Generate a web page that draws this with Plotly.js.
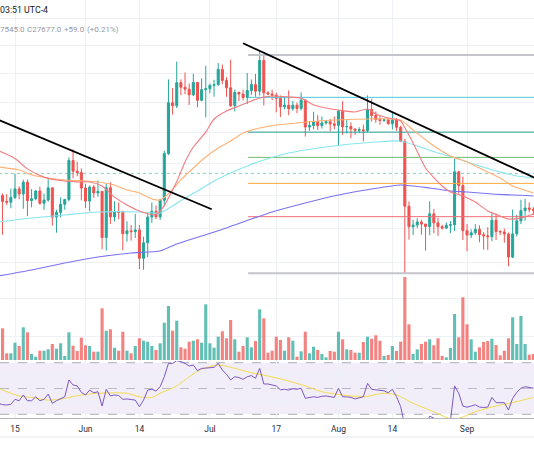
<!DOCTYPE html>
<html><head><meta charset="utf-8">
<script src="https://cdn.plot.ly/plotly-3.0.1.min.js"></script>
<style>html,body{margin:0;padding:0;background:#fff;}#chart{width:534px;height:462px;}</style>
</head><body><div id="chart"></div>
<script>
// ---- daily candles, 2023-05-11 .. 2023-09-17 ----
const firstDay = '2023-05-11';
const opens = [27619,26988,26808,26785,26931,27193,27036,27399,26833,26890,27129,26753,26851,27226,26334,26476,26720,26868,28085,27746,27702,
27219,26819,27249,27069,27116,25728,27231,26340,26499,26477,25841,25925,25903,25954,25129,25575,26335,26511,26340,26845,28308,29994,29890,30688,30528,30462,30267,30693,30078,30445,
30477,30590,30620,31156,30767,30508,29895,30346,30292,30172,30414,30620,30391,31476,30334,30295,30249,30145,29856,29913,29793,29909,29800,30083,29177,29228,29353,29223,29314,29352,29281,
29233,29705,29186,29193,29113,29072,29089,29055,29767,29561,29429,29397,29415,29283,29409,29170,28701,26664,26049,26096,26189,26125,26055,26432,26163,26048,26008,26089,26106,27727,27297,
25931,25800,25869,25969,25812,25779,25754,26241,25905,25895,25833,25163,25835,26223,26529,26608,26569];
const highs = [27659,27055,27030,27200,27666,27275,27480,27485,27190,27155,27265,27050,27495,27227,26558,26932,26888,28193,28447,28045,27835,
27347,27300,27317,27455,27130,27355,27399,26810,26780,26530,26210,26098,26433,26098,25750,26480,26777,26685,26890,28400,30800,30500,31432,30800,31046,30656,31000,30705,30840,31282,
30660,30789,31380,31325,30880,31500,30449,30383,30445,31026,30800,30993,31814,31640,30390,30440,30340,30245,30186,30417,30056,29998,30350,30099,29376,29690,29571,29529,29414,29448,29530,
29744,30047,29410,29333,29117,29169,29259,30244,30130,29700,29540,29480,29450,29660,29480,29220,28786,26808,26260,26299,26258,26132,26814,26575,26315,26107,26179,26218,28142,27760,27575,
26125,25970,26121,26089,25888,26032,26444,26433,25945,25990,25878,26560,26400,26860,26888,26777,26631];
const lows = [26745,25811,26703,26600,26877,26878,26586,26361,26630,26843,26706,26554,26800,26080,25871,26325,26557,26810,27524,27588,26841,
26605,26505,26920,26951,25388,25351,26131,26206,26269,25358,25608,25640,25712,24821,24800,25161,26166,26274,26252,26665,28260,29590,29813,30251,30290,29918,30225,29840,30042,29500,
30323,30200,30575,30633,30200,29850,29701,30046,30075,29950,30265,30200,30240,29900,30253,30090,29667,29512,29768,29570,29721,29640,29730,28862,29047,29096,29080,29125,29259,29033,29101,
28585,28920,28960,28806,28920,28975,28702,29000,29358,29320,29250,29350,29260,29100,29050,28700,24703,25668,25800,26006,25812,25350,25796,25855,25777,25960,25980,25860,25922,27047,25655,
25333,25714,25804,25590,25377,25370,25625,25657,25801,25578,24901,25133,25760,26125,26224,26478,26400];
const closes = [26988,26808,26785,26931,27193,27036,27399,26833,26890,27129,26753,26851,27226,26334,26476,26720,26868,28085,27746,27702,27219,
26819,27249,27069,27116,25728,27231,26340,26499,26477,25841,25925,25903,25954,25129,25575,26335,26511,26340,26845,28308,29994,29890,30688,30528,30462,30267,30693,30078,30445,30477,
30590,30620,31156,30767,30508,29895,30346,30292,30172,30414,30620,30391,31476,30334,30295,30249,30145,29856,29913,29793,29909,29800,30083,29177,29228,29353,29223,29314,29352,29281,29233,
29705,29186,29193,29113,29072,29089,29055,29767,29561,29429,29397,29415,29283,29409,29170,28701,26664,26049,26096,26189,26125,26055,26432,26163,26048,26008,26089,26106,27727,27297,25931,
25800,25869,25969,25812,25779,25754,26241,25905,25895,25833,25163,25835,26223,26529,26608,26569,26534];
const volumeK = [30.7,31.7,6.7,6.7,17.3,14,32.7,27.7,6,3.3,9.3,9.3,10.7,16,11.3,16.7,4,27.7,14.3,9,22.3,
14.7,14,8.3,8.3,51.7,29.3,30.7,12.3,9.3,28.3,9.3,6.7,14,21.7,19.3,18.3,14,10,16.7,37.3,54,29.3,39.3,12.7,11.3,18.3,19.3,20.7,17.3,55.7,
16.7,12.3,23.3,28.7,21.7,40,20.7,8.3,14,22.7,12.7,19,50.7,41.7,7.3,9.3,23.3,20,9.3,22.7,19.3,3.3,8.7,28.3,6.7,13.3,10,6,2.7,9,8.3,
28.3,20.7,10.7,10,7.3,7.3,18,23.3,21.3,24.7,19.3,4,5,14,9,18.3,83,35.7,6,10.7,16,18.3,20.7,14.7,21.7,4,2.7,12,46,22.7,62.7,
35.7,20.7,8.3,12.7,18,19,21.3,15,4.7,9.3,21.7,42.7,16,44,16,5.3,6];
const rsi = [38.5,37.5,37.2,37.7,41.6,40.5,45,40.5,40.5,43.6,40.5,41.6,45.7,38.5,40.5,42,43.6,56.6,52.7,52,47,
45,48.8,46.7,47.5,36.4,49.4,44.2,45,44.5,41.6,41.9,41.5,41,35.9,41,48.8,49.4,48,51.4,59.1,69.5,69.5,71.5,70.8,69.5,67.4,68.2,63.8,65.6,65.8,
66.2,66.4,69.5,64.3,61,56.6,59.1,58.5,57.1,59.1,60,57.9,65.6,53.5,53.5,53,52,49,49.4,48.8,49.8,49.4,50.2,42.4,43,43.6,43.1,44,44.2,43.6,43.1,
50.2,43.6,43.5,43.1,41.9,42.5,43.6,54,49.4,49,48.8,48.2,46.7,49.4,43.6,36,21,18,19,21,21,21,28.5,27.4,25.5,23.5,24.5,25,52,46.3,36.4,
35.5,36.4,37.4,35.6,35.3,35.6,43.1,39,38.8,39,33.3,42.4,47,50.2,51.4,51,50.2];

// ---- moving averages (sparse points) ----
const ema20Dates = ['2023-05-11','2023-05-15','2023-05-18','2023-05-22','2023-05-25','2023-05-30','2023-06-02','2023-06-05','2023-06-08','2023-06-11','2023-06-14','2023-06-18','2023-06-19','2023-06-20','2023-06-21','2023-06-23','2023-06-25','2023-06-27','2023-06-30','2023-07-02','2023-07-05','2023-07-08','2023-07-11','2023-07-13','2023-07-16','2023-07-20','2023-07-23','2023-07-26','2023-07-29','2023-08-01','2023-08-05','2023-08-08','2023-08-10','2023-08-13','2023-08-16','2023-08-17','2023-08-19','2023-08-22','2023-08-26','2023-08-28','2023-08-31','2023-09-03','2023-09-06','2023-09-09','2023-09-11','2023-09-14','2023-09-17'];
const ema20Values = [28400,28150,27820,27560,27470,27410,27410,27280,26940,26700,26520,26400,26520,26680,26910,27420,28040,28520,29010,29445,29714,29884,30054,30160,30226,30192,30157,29918,29816,29748,29680,29782,29613,29479,29378,29150,28652,27848,27284,27098,26975,26792,26519,26368,26278,26308,26428];
const ema50Dates = ['2023-05-11','2023-05-16','2023-05-19','2023-05-23','2023-05-27','2023-06-01','2023-06-04','2023-06-08','2023-06-11','2023-06-14','2023-06-17','2023-06-19','2023-06-21','2023-06-24','2023-06-27','2023-06-30','2023-07-03','2023-07-06','2023-07-09','2023-07-13','2023-07-17','2023-07-22','2023-07-27','2023-08-01','2023-08-08','2023-08-14','2023-08-16','2023-08-19','2023-08-23','2023-08-28','2023-09-01','2023-09-05','2023-09-09','2023-09-12','2023-09-17'];
const ema50Values = [27880,27785,27627,27533,27471,27440,27409,27315,27160,27068,26883,26853,27037,27471,27848,28199,28490,28717,28981,29145,29245,29312,29378,29412,29445,29445,29412,29079,28652,28231,28039,27785,27533,27284,27068];
const ema100Dates = ['2023-05-11','2023-05-19','2023-05-27','2023-06-04','2023-06-14','2023-06-19','2023-06-22','2023-06-25','2023-06-28','2023-07-02','2023-07-06','2023-07-10','2023-07-14','2023-07-19','2023-07-24','2023-07-29','2023-08-04','2023-08-10','2023-08-16','2023-08-20','2023-08-25','2023-08-30','2023-09-04','2023-09-09','2023-09-13','2023-09-17'];
const ema100Values = [26189,26308,26398,26489,26489,26459,26670,26914,27129,27440,27690,27911,28103,28295,28424,28522,28620,28685,28717,28554,28327,28135,27911,27722,27596,27533];
const ema200Dates = ['2023-05-11','2023-05-19','2023-05-27','2023-06-04','2023-06-12','2023-06-19','2023-06-23','2023-06-29','2023-07-05','2023-07-11','2023-07-16','2023-07-24','2023-08-01','2023-08-09','2023-08-16','2023-08-23','2023-08-28','2023-09-01','2023-09-07','2023-09-17'];
const ema200Values = [24628,24797,24995,25167,25282,25339,25542,25775,26011,26278,26489,26761,27006,27191,27315,27222,27129,27098,27037,26975];
const rsiMaDates = ['2023-05-11','2023-05-14','2023-05-16','2023-05-19','2023-05-23','2023-05-27','2023-05-31','2023-06-04','2023-06-08','2023-06-11','2023-06-14','2023-06-17','2023-06-19','2023-06-23','2023-06-26','2023-06-29','2023-07-03','2023-07-07','2023-07-11','2023-07-15','2023-07-19','2023-07-24','2023-07-28','2023-08-02','2023-08-07','2023-08-12','2023-08-15','2023-08-19','2023-08-23','2023-08-28','2023-08-30','2023-09-03','2023-09-08','2023-09-13','2023-09-17'];
const rsiMaValues = [50.2,46.3,44.2,43.1,41,42.4,45,46.3,46.7,46.3,43.6,43.1,46.3,52,59.1,64.9,68.2,65.6,62.2,59.7,56.6,52,47.5,45,43.6,46.3,45,38.5,33.3,26.6,26.8,32,36.4,39.8,43.1];

// ---- drawings ----
const trend1Dates = ['2023-05-06 13:00','2023-07-01 10:20'];
const trend1Prices = [29680, 26570];
const trend2Dates = ['2023-07-09 00:00','2023-09-20 00:00'];
const trend2Prices = [32094, 27374];
const fibLow = 24703, fibHigh = 31670;
const fibRatios = [0, 0.236, 0.382, 0.5, 0.618, 0.786, 1];
const fibStart = '2023-07-10 05:00', fibEnd = '2023-09-30';
const lastClose = 27677;

// ---- axis labels / header texts ----
const tickDates = ['2023-05-15','2023-06-01','2023-06-14','2023-07-01','2023-07-17','2023-08-01','2023-08-14','2023-09-01'];
const tickLabels = ['15','Jun','14','Jul','17','Aug','14','Sep'];
const priceGrid = [23000,24000,25000,26000,27000,28000,29000,30000,31000,32000,33000];
const headerTime = '03:51 UTC-4';
const headerParts = ['7545.0', 'C27677.0', '+59.0', '(+0.21%)'];

// build day list
const days = opens.map((_, i) => {
  const d = new Date(firstDay + 'T00:00:00Z'); d.setUTCDate(d.getUTCDate() + i);
  return d.toISOString().slice(0, 10);
});
const UP = '#26a69a', DOWN = '#ef5350';
const volColors = opens.map((o, i) => closes[i] >= o ? 'rgba(38,166,154,0.72)' : 'rgba(239,83,80,0.72)');

const fibColors = ['#c4c5ca','#f26d77','#ffa83a','#6cbd6f','#22a08e','#4cc9da','#c4c5ca'];
const fibWidths = [2,1,1,1,1,1,2];

const traces = [];
traces.push({type:'bar', x:days, y:volumeK, yaxis:'y2', marker:{color:volColors, line:{width:0}}, hoverinfo:'skip'});
fibRatios.forEach((r, k) => {
  const p = fibLow + r * (fibHigh - fibLow);
  traces.push({type:'scatter', mode:'lines', x:[fibStart, fibEnd], y:[p, p], yaxis:'y',
    line:{color:fibColors[k], width:fibWidths[k]}, hoverinfo:'skip'});
});
traces.push({type:'scatter', mode:'lines', x:['2023-05-01','2023-09-30'], y:[lastClose, lastClose],
  line:{color:'rgba(38,166,154,0.55)', width:1, dash:'dot'}, hoverinfo:'skip'});
const maLine = (xs, ys, color) => ({type:'scatter', mode:'lines', x:xs, y:ys, yaxis:'y',
  line:{color:color, width:1.1, shape:'spline', smoothing:0.6}, hoverinfo:'skip'});
traces.push(maLine(ema200Dates, ema200Values, '#7a72f0'));
traces.push(maLine(ema100Dates, ema100Values, '#86e6ef'));
traces.push(maLine(ema50Dates, ema50Values, '#ffb073'));
traces.push(maLine(ema20Dates, ema20Values, '#f57a7e'));
traces.push({type:'candlestick', x:days, open:opens, high:highs, low:lows, close:closes, yaxis:'y',
  increasing:{line:{color:UP, width:1}, fillcolor:UP},
  decreasing:{line:{color:DOWN, width:1}, fillcolor:DOWN},
  whiskerwidth:0, hoverinfo:'skip'});
traces.push({type:'scatter', mode:'lines', x:trend1Dates, y:trend1Prices, line:{color:'#000000', width:1.8}, hoverinfo:'skip'});
traces.push({type:'scatter', mode:'lines', x:trend2Dates, y:trend2Prices, line:{color:'#000000', width:1.8}, hoverinfo:'skip'});
traces.push({type:'scatter', mode:'lines', x:rsiMaDates, y:rsiMaValues, yaxis:'y3',
  line:{color:'#f2dc4e', width:1, shape:'spline', smoothing:0.8}, hoverinfo:'skip'});
traces.push({type:'scatter', mode:'lines', x:days, y:rsi, yaxis:'y3',
  line:{color:'#7e57c2', width:1}, hoverinfo:'skip'});

const H = 462, W = 534;
const py = v => 1 - v / H;
const px = v => v / W;
const grid = '#edf0f5';
const headFont = {family:'Roboto, sans-serif', size:8, color:'#9598a1'};
const headX = [-2, 25, 62, 85];
const annotations = [
  {xref:'paper', yref:'paper', x:px(-2), y:py(10.5), xanchor:'left', yanchor:'middle', showarrow:false,
    text:headerTime, font:{family:'Roboto, sans-serif', size:8.8, color:'#131722'}}
].concat(headerParts.map((t, k) => ({xref:'paper', yref:'paper', x:px(headX[k]), y:py(29.3),
    xanchor:'left', yanchor:'middle', showarrow:false, text:t, font:headFont})));

const layout = {
  width:W, height:H, margin:{l:0, r:0, t:0, b:0},
  paper_bgcolor:'#ffffff', plot_bgcolor:'#ffffff', showlegend:false,
  bargap:0.25,
  xaxis:{type:'date', range:['2023-05-11 09:11','2023-09-17 03:36'], anchor:'y3',
    tickmode:'array', tickvals:tickDates, ticktext:tickLabels, ticks:'', ticklabelstandoff:3,
    tickfont:{family:'Roboto, sans-serif', size:8.5, color:'#2a2e39'},
    showgrid:true, gridcolor:grid, zeroline:false, showline:true, linecolor:'#b2b5be', linewidth:1,
    rangeslider:{visible:false}, fixedrange:true},
  yaxis:{type:'log', domain:[py(361), 1], range:[4.34940, 4.52782], tickmode:'array', tickvals:priceGrid,
    showticklabels:false, showgrid:true, gridcolor:grid, zeroline:false, showline:false, fixedrange:true},
  yaxis2:{overlaying:'y', range:[-1, 360], showgrid:false, showticklabels:false, zeroline:false, fixedrange:true},
  yaxis3:{domain:[py(418), py(361)], range:[27.13, 71.32], tickmode:'array', tickvals:[40, 60],
    showticklabels:false, showgrid:true, gridcolor:grid, zeroline:false, fixedrange:true},
  shapes:[
    {type:'rect', xref:'paper', x0:0, x1:1, yref:'y3', y0:30, y1:70, fillcolor:'rgba(126,87,194,0.1)', line:{width:0}, layer:'below'},
    {type:'line', xref:'paper', x0:0, x1:1, yref:'y3', y0:70, y1:70, line:{color:'rgba(120,123,134,0.6)', width:1, dash:'dash'}, layer:'between'},
    {type:'line', xref:'paper', x0:0, x1:1, yref:'y3', y0:50, y1:50, line:{color:'rgba(120,123,134,0.45)', width:1, dash:'dash'}, layer:'between'},
    {type:'line', xref:'paper', x0:0, x1:1, yref:'y3', y0:30, y1:30, line:{color:'rgba(120,123,134,0.6)', width:1, dash:'dash'}, layer:'between'},
    {type:'line', xref:'paper', x0:0, x1:1, yref:'paper', y0:py(437), y1:py(437), line:{color:'#e6e8ee', width:1}}
  ],
  annotations:annotations
};
Plotly.newPlot('chart', traces, layout, {staticPlot:true});
</script>
</body></html>
